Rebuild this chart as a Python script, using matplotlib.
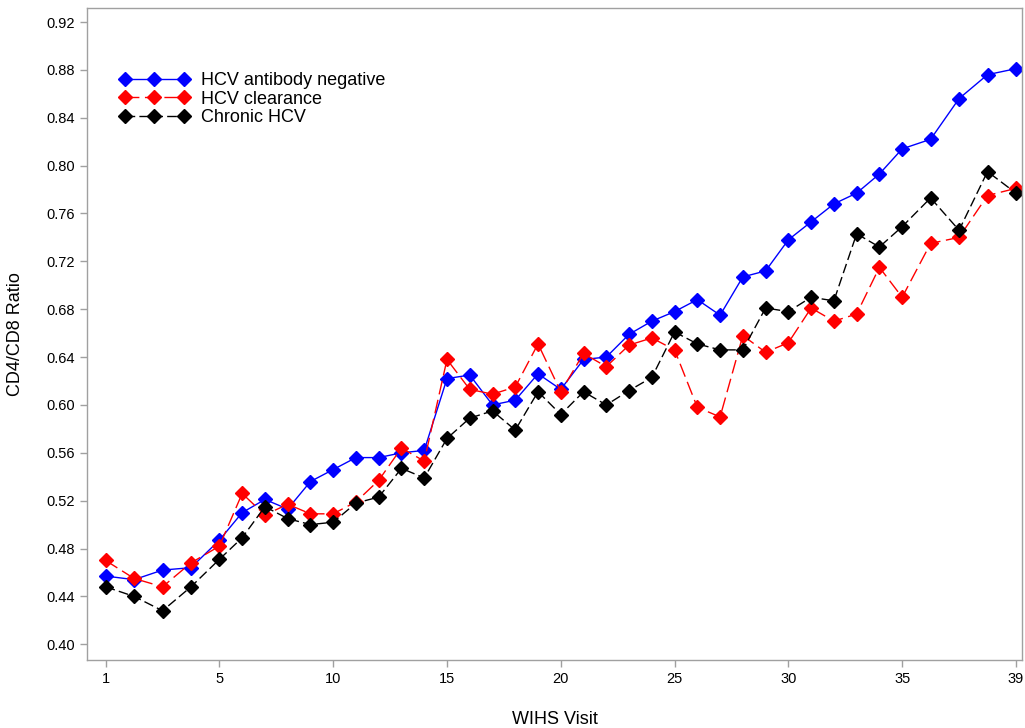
import numpy as np
import matplotlib
matplotlib.use("Agg")
import matplotlib.pyplot as plt

plt.rcParams['font.family'] = ['Liberation Sans', 'DejaVu Sans']

visits = np.arange(1, 40)

hcv_neg = [0.457, 0.454, 0.462, 0.464, 0.487, 0.510, 0.521, 0.513, 0.536, 0.546,
           0.556, 0.556, 0.560, 0.562, 0.622, 0.625, 0.600, 0.604, 0.626, 0.613,
           0.638, 0.640, 0.659, 0.670, 0.678, 0.688, 0.675, 0.707, 0.712, 0.738,
           0.753, 0.768, 0.777, 0.793, 0.814, 0.822, 0.856, 0.876, 0.881]
hcv_clear = [0.470, 0.455, 0.448, 0.468, 0.482, 0.526, 0.508, 0.517, 0.509, 0.509,
             0.519, 0.537, 0.564, 0.553, 0.638, 0.613, 0.609, 0.615, 0.651, 0.611,
             0.643, 0.632, 0.650, 0.656, 0.646, 0.598, 0.590, 0.658, 0.644, 0.652,
             0.681, 0.670, 0.676, 0.715, 0.690, 0.735, 0.740, 0.775, 0.781]
hcv_chronic = [0.448, 0.440, 0.428, 0.448, 0.471, 0.489, 0.515, 0.505, 0.500, 0.502,
               0.518, 0.523, 0.547, 0.539, 0.572, 0.589, 0.595, 0.579, 0.611, 0.592,
               0.611, 0.600, 0.612, 0.623, 0.661, 0.651, 0.646, 0.646, 0.681, 0.678,
               0.690, 0.687, 0.743, 0.732, 0.749, 0.773, 0.746, 0.795, 0.777]

xticks = [1, 5, 10, 15, 20, 25, 30, 35, 39]
yticks = [0.40, 0.44, 0.48, 0.52, 0.56, 0.60, 0.64, 0.68, 0.72, 0.76, 0.80, 0.84, 0.88, 0.92]

# tick labels are evenly spaced, so the visit axis is piecewise linear
tv = np.array(xticks, float)
ti = np.arange(len(xticks), dtype=float)


def fwd(v):
    v = np.asarray(v, float)
    out = np.interp(v, tv, ti)
    out = np.where(v < tv[0], (v - tv[0]) / 4.0, out)
    out = np.where(v > tv[-1], ti[-1] + (v - tv[-1]) / 4.0, out)
    return out


def inv(p):
    p = np.asarray(p, float)
    out = np.interp(p, ti, tv)
    out = np.where(p < ti[0], tv[0] + p * 4.0, out)
    out = np.where(p > ti[-1], tv[-1] + (p - ti[-1]) * 4.0, out)
    return out


fig = plt.figure(figsize=(10.25, 7.28), dpi=100)
ax = fig.add_axes([0.085, 0.093, 0.912, 0.896])
ax.set_xscale('function', functions=(fwd, inv))

ax.plot(visits, hcv_neg, color='#0000ff', lw=1.0, marker='D', ms=7.5,
        label='HCV antibody negative')
ax.plot(visits, hcv_clear, color='#ff0000', lw=1.0, marker='D', ms=7.5,
        dashes=(10, 4), label='HCV clearance')
ax.plot(visits, hcv_chronic, color='black', lw=1.0, marker='D', ms=7.5,
        dashes=(7, 3), label='Chronic HCV')

ax.set_xlim(0.35, 39.21)
ax.set_ylim(0.3866, 0.9317)
ax.set_xticks(xticks)
ax.set_xticklabels([str(t) for t in xticks])
ax.set_yticks(yticks)
ax.set_yticklabels(['%.2f' % t for t in yticks])
ax.minorticks_off()

for s in ax.spines.values():
    s.set_color('#a0a0a0')
    s.set_linewidth(1.0)
ax.tick_params(colors='#a0a0a0', labelcolor='black', labelsize=10.5, length=5, width=1)

ax.set_xlabel('WIHS Visit', fontsize=13, labelpad=18)
ax.set_ylabel('CD4/CD8 Ratio', fontsize=13, labelpad=16)

ax.legend(loc='upper left', bbox_to_anchor=(0.017, 0.927), frameon=False,
          numpoints=3, handlelength=3.9, fontsize=13, labelspacing=0.1,
          handletextpad=0.6)

fig.savefig('out.png', dpi=100)
